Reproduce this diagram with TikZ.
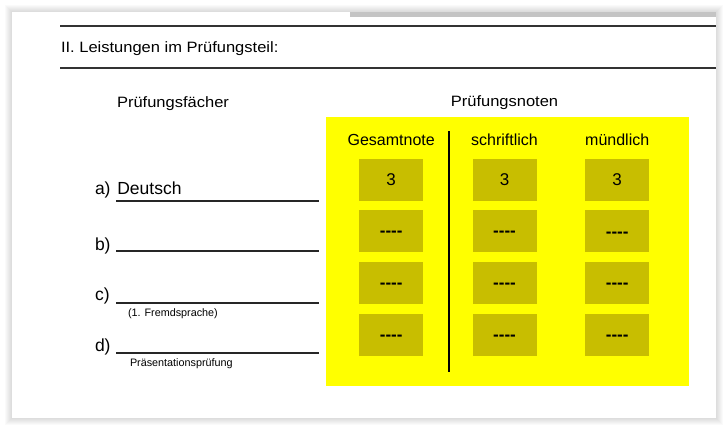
\documentclass[tikz,border=0pt]{standalone}
\usepackage{fontspec}
\setmainfont{Liberation Sans}
\newfontfamily\headfont{Liberation Sans}[FakeStretch=1.1]
\definecolor{markyellow}{RGB}{255,255,0}
\definecolor{gradecol}{RGB}{200,190,0}
\definecolor{rulegray}{RGB}{50,50,50}
\definecolor{bargray}{RGB}{196,196,196}
\newcommand{\nograde}[1]{\raisebox{#1}{\bfseries\hbox{-}\hbox{-}\hbox{-}\hbox{-}}}

\begin{document}
\begin{tikzpicture}[x=1pt,y=-1pt]
	\tikzstyle{invisible} = [outer sep=0,inner sep=0,minimum size=0]
	\tikzstyle{head} = [invisible, font=\headfont\fontsize{15}{18}\selectfont]
	\tikzstyle{colhead} = [invisible, anchor=base, font=\fontsize{16}{19}\selectfont]
	\tikzstyle{gradebox} = [fill=gradecol, minimum width=64pt, minimum height=42pt, inner sep=0, text height=12pt, text depth=0pt, font=\fontsize{17}{20}\selectfont]
	\tikzstyle{subject} = [invisible, anchor=base west, font=\fontsize{17.5}{21}\selectfont]
	\tikzstyle{hint} = [invisible, anchor=base west, font=\fontsize{10.8}{13}\selectfont]
	\tikzstyle{line} = [draw, line width=2pt, black!85]
	
	\useasboundingbox (0,0) rectangle (728,431);
	% page with shadow
	\foreach \s in {1,...,7}
	{
		\fill [black, opacity=0.018] (12-\s,12-\s) rectangle (716+\s,418+\s);
	}
	\fill [white] (12,12) rectangle (716,418);
	\fill [bargray] (350,12) rectangle (716,16.5);
	\draw [rulegray, line width=2pt] (60,26) -- (716,26);
	\draw [rulegray, line width=2pt] (60,68) -- (716,68);
	\node [head, anchor=base west] (title) at (61,52.5) {II. Leistungen im Prüfungsteil:};
	
	\node [head, anchor=base] (faecher) at (173,107) {Prüfungsfächer};
	\node [head, anchor=base] (noten) at (504.5,106) {Prüfungsnoten};
	
	% subjects
	\foreach \l/\y/\b in {a/201/194.5, b/251/250, c/303/300, d/353/351}
	{
		\node [subject] (l\l) at (95,\b) {\l)};
		\coordinate (s\l) at (116,\y);
		\coordinate (e\l) at (319,\y);
		\draw [line] (s\l) -- (e\l);
	}
	\node [subject] (deutsch) at (117.3,194.3) {Deutsch};
	\node [hint] (fremd) at (128,316.8) {(1. Fremdsprache)};
	\node [hint] (praes) at (130,366.7) {Präsentationsprüfung};
	
	% grades
	\fill [markyellow] (326,117) rectangle (689,386);
	\coordinate (top) at (448.5,131);
	\coordinate (bottom) at (448.5,372);
	\draw [black, line width=2pt] (top) -- (bottom);
	\foreach \x/\t/\d [count=\c] in {391.2/Gesamtnote/0.3pt, 504.5/schriftlich/0.3pt, 617.2/mündlich/-0.2pt}
	{
		\node [colhead] (h\c) at (\x,145.7) {\t};
		\foreach \y/\g [count=\r] in {179.7/3, 231.2/\nograde{\d}, 282.7/\nograde{\d}, 334.5/\nograde{\d}}
		{
			\node [gradebox] (g\c\r) at (\x,\y) {\g};
		}
	}
\end{tikzpicture}
\end{document}
